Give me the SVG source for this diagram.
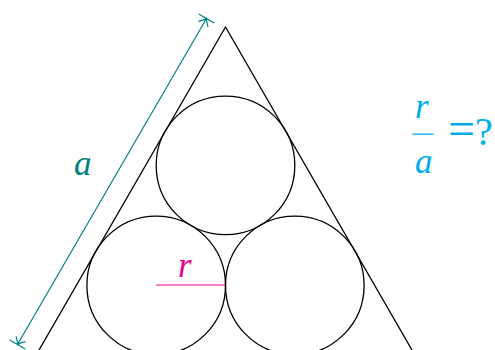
<svg xmlns="http://www.w3.org/2000/svg" width="495" height="350" viewBox="0 0 495 350">
<style>
.shape{fill:none;stroke:#000;stroke-width:1.3}
.math{font-family:"Liberation Serif","Times New Roman",serif;font-style:italic;font-size:35px}
.up{font-family:"Liberation Serif","Times New Roman",serif}
</style>
<defs>
<marker id="tip" viewBox="-10 -10 20 20" markerWidth="20" markerHeight="20" refX="0" refY="0" orient="auto-start-reverse" markerUnits="userSpaceOnUse">
<path d="M -6.5 -5.5 Q -2 -1 0 0 Q -2 1 -6.5 5.5 M 0 -9 L 0 9" fill="none" stroke="#008080" stroke-width="1.2"/>
</marker>
</defs>
<g id="triangle"><polygon class="shape" points="225.5,27 29.8,366 421.2,366"/></g>
<g id="circle-top"><circle class="shape" cx="225.5" cy="165.4" r="69.3"/></g>
<g id="circle-left"><circle class="shape" cx="156.2" cy="285.4" r="69.3"/></g>
<g id="circle-right"><circle class="shape" cx="294.8" cy="285.4" r="69.3"/></g>
<g id="connectors">
<path d="M 206.5 18.5 L 17.5 344.5" fill="none" stroke="#008080" stroke-width="1.2" marker-start="url(#tip)" marker-end="url(#tip)"/>
<path d="M 156.2 285 L 225.5 285" fill="none" stroke="#EC008C" stroke-width="1.2"/>
</g>
<g id="label-a"><text class="math" x="74" y="175" fill="#008080">a</text></g>
<g id="label-r"><text class="math" x="178" y="277" fill="#EC008C">r</text></g>
<g id="ratio" fill="#00AEEF">
<text class="math" x="415" y="118">r</text>
<rect x="412.5" y="133.5" width="21" height="1.3"/>
<text class="math" x="415" y="173">a</text>
<text class="up" x="448" y="145"><tspan font-size="48">=</tspan><tspan font-size="40">?</tspan></text>
</g>
</svg>
